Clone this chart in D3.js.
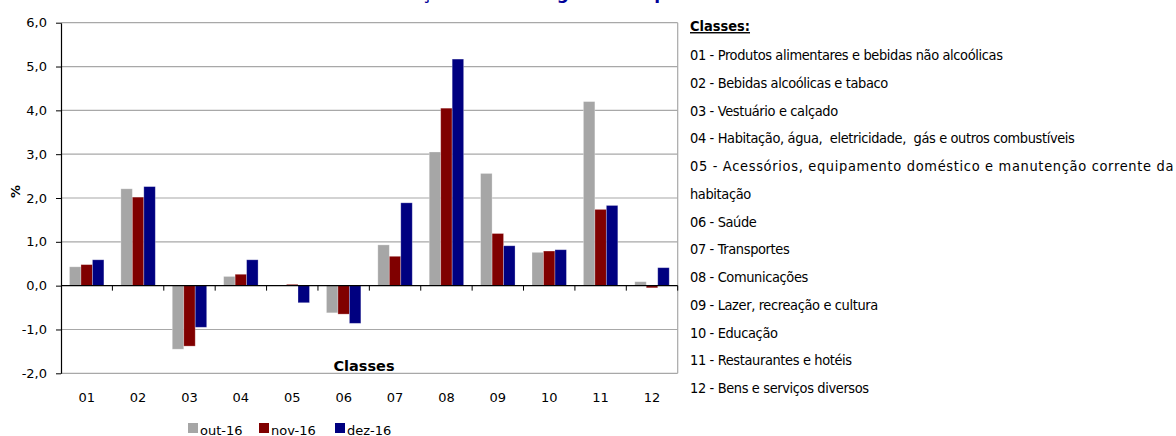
<!DOCTYPE html>
<html>
<head>
<meta charset="utf-8">
<script src="https://cdn.jsdelivr.net/npm/d3@7"></script>
<style>
  html, body { margin: 0; padding: 0; background: #fff; }
  svg { display: block; }
  text { font-family: "DejaVu Sans", Verdana, sans-serif; }
</style>
</head>
<body>
<svg id="chart" width="1176" height="436"></svg>
<script>
// ---------- data ----------
const categories = ["01","02","03","04","05","06","07","08","09","10","11","12"];
const seriesNames = ["out-16","nov-16","dez-16"];
const out16 = [0.43, 2.21, -1.45, 0.21, 0.00, -0.62, 0.93, 3.05, 2.56, 0.76, 4.20, 0.09];
const nov16 = [0.48, 2.02, -1.38, 0.26, 0.03, -0.65, 0.67, 4.05, 1.19, 0.79, 1.74, -0.05];
const dez16 = [0.59, 2.26, -0.95, 0.59, -0.39, -0.86, 1.89, 5.17, 0.91, 0.82, 1.83, 0.41];
const yTicks = [-2, -1, 0, 1, 2, 3, 4, 5, 6];
const titleText = "Variação mensal segundo o tipo";
const yAxisTitle = "%";
const xAxisTitle = "Classes";
const classesHeading = "Classes:";
const classLines = [
  "01 - Produtos alimentares e bebidas não alcoólicas",
  "02 - Bebidas alcoólicas e tabaco",
  "03 - Vestuário e calçado",
  "04 - Habitação, água,  eletricidade,  gás e outros combustíveis",
  "05 - Acessórios, equipamento doméstico e manutenção corrente da",
  "habitação",
  "06 - Saúde",
  "07 - Transportes",
  "08 - Comunicações",
  "09 - Lazer, recreação e cultura",
  "10 - Educação",
  "11 - Restaurantes e hotéis",
  "12 - Bens e serviços diversos"
];
const justifiedLine = 4;

const seriesValues = [out16, nov16, dez16];
const colors = ["#A6A6A6", "#800000", "#000080"];

// ---------- layout ----------
const svg = d3.select("#chart");
const plot = { left: 61, right: 677.7, top: 22.7, bottom: 373.3 };

const y = d3.scaleLinear().domain([-2, 6]).range([plot.bottom, plot.top]);
const x = d3.scaleBand().domain(categories).range([plot.left, plot.right])
  .paddingInner(0.33).paddingOuter(0.165);
const xs = d3.scaleBand().domain(seriesNames).range([0, x.bandwidth()]);

// Title (cut at the top edge, as in the reference)
svg.append("text")
  .attr("x", 525).attr("y", -1)
  .attr("text-anchor", "middle")
  .attr("font-size", 17).attr("font-weight", "bold")
  .attr("fill", "#000099")
  .text(titleText);

// gridlines
svg.append("g").selectAll("line")
  .data(yTicks.filter(d => d !== 0))
  .join("line")
  .attr("x1", plot.left).attr("x2", plot.right)
  .attr("y1", d => y(d)).attr("y2", d => y(d))
  .attr("stroke", "#a8a8a8").attr("stroke-width", 1.2);

// right border
svg.append("line")
  .attr("x1", plot.right).attr("x2", plot.right)
  .attr("y1", plot.top).attr("y2", plot.bottom)
  .attr("stroke", "#a8a8a8").attr("stroke-width", 1.2);

// bars
const groups = svg.append("g").selectAll("g")
  .data(categories)
  .join("g")
  .attr("transform", d => `translate(${x(d)},0)`);

groups.selectAll("rect")
  .data((c, i) => seriesNames.map((s, j) => ({ s, j, v: seriesValues[j][i] })))
  .join("rect")
  .attr("x", d => xs(d.s))
  .attr("width", xs.bandwidth())
  .attr("y", d => y(Math.max(0, d.v)))
  .attr("height", d => Math.abs(y(d.v) - y(0)))
  .attr("fill", d => colors[d.j])
  .attr("stroke", "rgba(255,255,255,0.35)")
  .attr("stroke-width", 0.8);

// y axis
const yAxis = d3.axisLeft(y)
  .tickValues(yTicks)
  .tickFormat(d => d.toFixed(1).replace(".", ","))
  .tickSize(5)
  .tickPadding(9)
  .tickSizeOuter(0);
const yg = svg.append("g").attr("transform", `translate(${plot.left},0)`).call(yAxis);
yg.select(".domain").attr("stroke", "#000").attr("stroke-width", 1.2);
yg.selectAll(".tick line").attr("stroke", "#000");
yg.selectAll(".tick text").attr("font-size", 13).attr("fill", "#000")
  .attr("font-family", "\"DejaVu Sans\", Verdana, sans-serif");

// zero axis with ticks between categories
svg.append("line")
  .attr("x1", plot.left).attr("x2", plot.right)
  .attr("y1", y(0)).attr("y2", y(0))
  .attr("stroke", "#000").attr("stroke-width", 1.2);
const step = x.step();
svg.append("g").selectAll("line")
  .data(categories)
  .join("line")
  .attr("x1", (d) => x(d) - x.paddingOuter() * step + step)
  .attr("x2", (d) => x(d) - x.paddingOuter() * step + step)
  .attr("y1", y(0)).attr("y2", y(0) + 5)
  .attr("stroke", "#000");

// category labels
svg.append("g").selectAll("text")
  .data(categories)
  .join("text")
  .attr("x", d => x(d) + x.bandwidth() / 2)
  .attr("y", 401.5)
  .attr("text-anchor", "middle")
  .attr("font-size", 13)
  .text(d => d);

// axis titles
svg.append("text")
  .attr("transform", "translate(20,191.5) rotate(-90)")
  .attr("text-anchor", "middle")
  .attr("font-size", 13).attr("font-weight", "bold")
  .text(yAxisTitle);

svg.append("text")
  .attr("x", 364).attr("y", 371)
  .attr("text-anchor", "middle")
  .attr("font-size", 14.5).attr("font-weight", "bold")
  .text(xAxisTitle);

// legend
const legendX = [188, 259, 335];
const leg = svg.append("g").selectAll("g")
  .data(seriesNames)
  .join("g")
  .attr("transform", (d, i) => `translate(${legendX[i]},423)`);
leg.append("rect").attr("width", 10).attr("height", 10).attr("fill", (d, i) => colors[i]);
leg.append("text").attr("x", 12).attr("y", 11.5).attr("font-size", 13).text(d => d);

// classes list on the right
const listX = 690;
const lineGap = 27.75;
const firstBase = 60;
const side = svg.append("g");
const head = side.append("text")
  .attr("font-size", 14).attr("font-weight", "bold")
  .attr("text-decoration", "underline")
  .text(classesHeading);

const lines = side.selectAll("text.cl")
  .data(classLines)
  .join("text")
  .attr("class", "cl")
  .attr("font-size", 14)
  .attr("letter-spacing", -0.4)
  .attr("xml:space", "preserve")
  .style("white-space", "pre")
  .text(d => d);

// condensed look: horizontal scale from measuring first line
const refWidth = 313;
const sx = refWidth / lines.nodes()[0].getComputedTextLength();
lines.attr("transform", (d, i) => `translate(${listX},${firstBase + i * lineGap}) scale(${sx},1)`);
head.attr("transform", `translate(${listX},31) scale(${sx},1)`);
lines.filter((d, i) => i === justifiedLine)
  .attr("textLength", (1173 - listX) / sx)
  .attr("lengthAdjust", "spacing");
</script>
</body>
</html>
